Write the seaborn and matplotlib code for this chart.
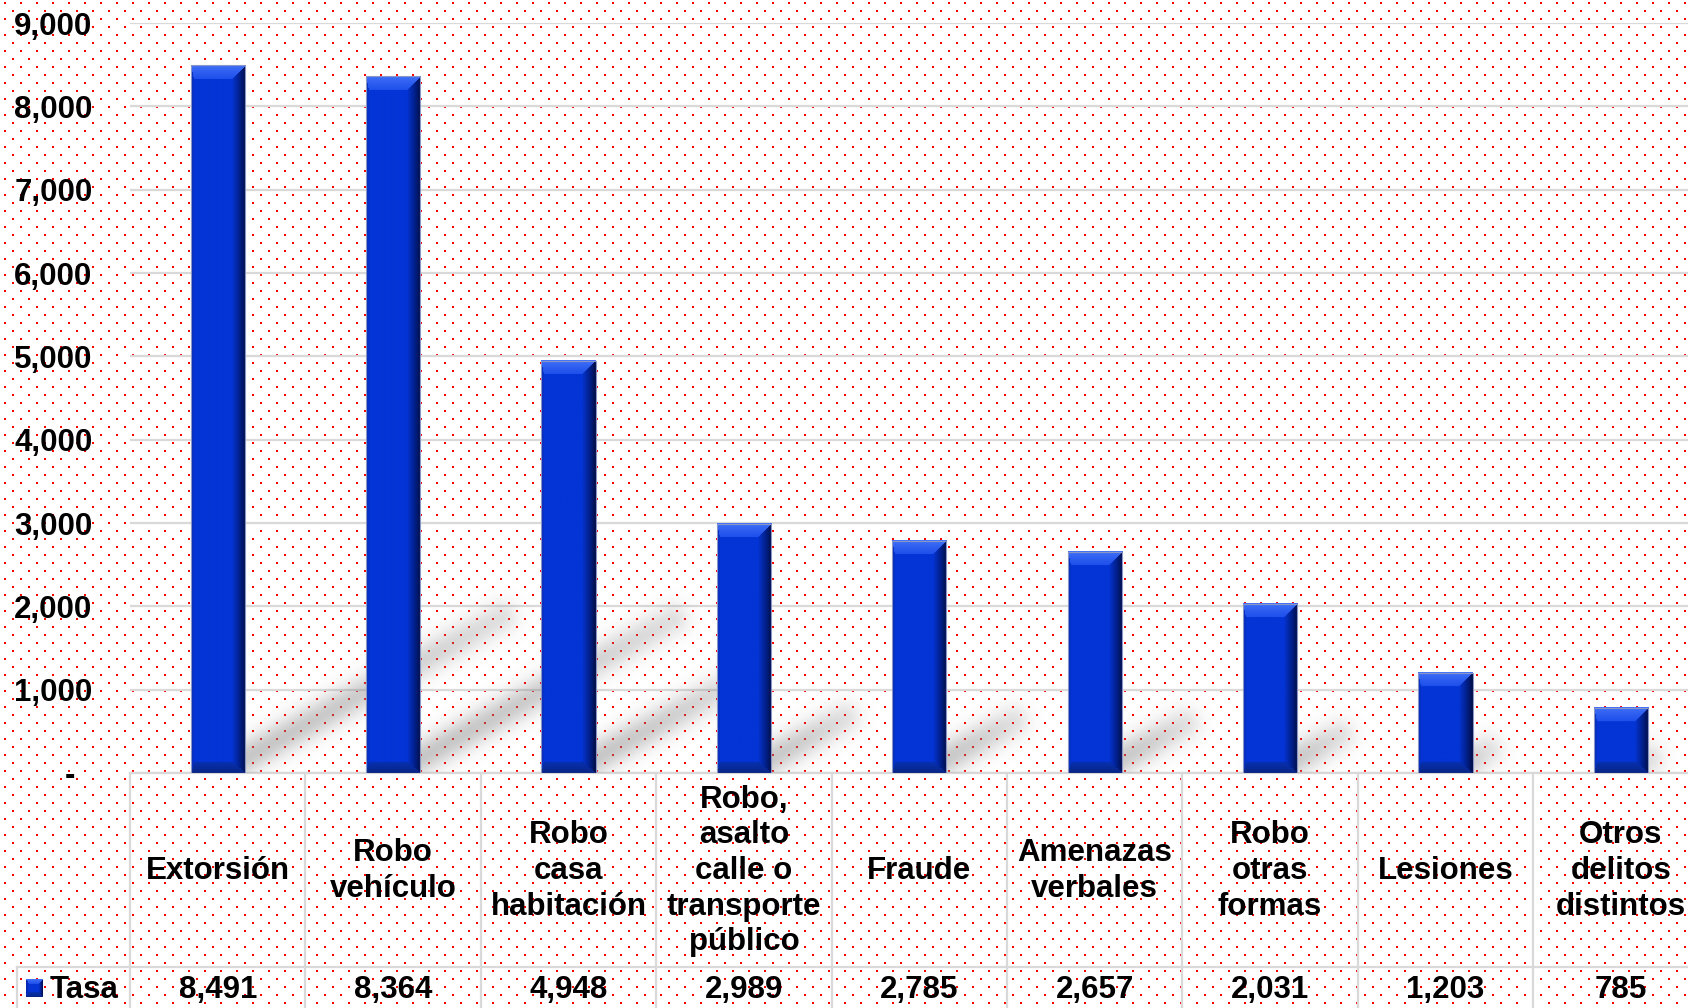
import numpy as np
import matplotlib
matplotlib.use('Agg')
import matplotlib.pyplot as plt
import seaborn as sns
import pandas as pd
from matplotlib.ticker import FuncFormatter
from matplotlib.transforms import blended_transform_factory
from matplotlib.patches import Rectangle
from matplotlib.lines import Line2D

# data
categories = ['Extorsión', 'Robo\nvehículo', 'Robo\ncasa\nhabitación',
              'Robo,\nasalto\ncalle o\ntransporte\npúblico', 'Fraude',
              'Amenazas\nverbales', 'Robo\notras\nformas', 'Lesiones',
              'Otros\ndelitos\ndistintos']
tasa = [8491, 8364, 4948, 2989, 2785, 2657, 2031, 1203, 785]
y_ticks = [0, 1000, 2000, 3000, 4000, 5000, 6000, 7000, 8000, 9000]
series_name = 'Tasa'

plt.rcParams['font.family'] = ['Liberation Sans', 'DejaVu Sans']
plt.rcParams['font.weight'] = 'bold'

W, H = 1688, 1008
blue = '#0434D5'
grid_color = '#D9D9D9'
fs = 22.5

fig = plt.figure(figsize=(W / 100, H / 100), dpi=100)
fig.patch.set_facecolor('white')


def fx(p):
    return p / W


def fy(p):
    return 1 - p / H


# red dotted background
bg = np.ones((H, W, 3))
for r in range(2, H - 1, 8):
    off = 4 + (8 if (r // 8) % 2 else 0)
    for c in range(off, W - 1, 16):
        bg[r:r + 2, c:c + 2] = (1, 0, 0)
fig.figimage(bg, xo=0, yo=0, origin='upper', zorder=-5)

col_w = 175.4
left, top, base = 130, 23, 773
ax = fig.add_axes([fx(left), fy(base), 9 * col_w / W, (base - top) / H])
ax.set_facecolor('none')
ax.set_zorder(2)

df = pd.DataFrame({'delito': categories, 'tasa': tasa})
sns.barplot(data=df, x='delito', y='tasa', color=blue, saturation=1,
            width=0.31, linewidth=0, ax=ax, zorder=3)
ax.set_xlim(-0.5, 8.5)
ax.set_ylim(0, 9000)
ax.set_yticks(y_ticks)
ax.yaxis.set_major_formatter(FuncFormatter(lambda v, p: '-  ' if v == 0 else f'{v:,.0f}'))
ax.grid(axis='y', color=grid_color, lw=1.6)
ax.grid(axis='x', visible=False)
ax.set_axisbelow(True)
ax.tick_params(axis='y', length=0, pad=27, labelsize=fs)
ax.tick_params(axis='x', length=0, labelbottom=False)
for s in ax.spines.values():
    s.set_visible(False)
ax.set_xlabel('')
ax.set_ylabel('')


def bevel_img(wpx, hpx, bl=3, br=13, bt=14, bb=11):
    w = max(int(round(wpx)), 4)
    h = max(int(round(hpx)), 4)
    jj, ii = np.meshgrid(np.arange(w) + 0.5, np.arange(h) + 0.5)
    d = np.stack([jj / bl, (w - jj) / br, ii / bt, (h - ii) / bb])
    face = d.argmin(0)
    m = np.clip(d.min(0), 0, 1)
    b = np.array(matplotlib.colors.to_rgb(blue))
    img = np.tile(b, (h, w, 1))
    cols = [(np.array(matplotlib.colors.to_rgb('#0628A8')), b * 0.97),
            (np.array(matplotlib.colors.to_rgb('#000A3A')), b * 0.95),
            (np.array(matplotlib.colors.to_rgb('#4474F8')), np.array(matplotlib.colors.to_rgb('#1E4FEA'))),
            (np.array(matplotlib.colors.to_rgb('#0A2480')), np.array(matplotlib.colors.to_rgb('#0630B0')))]
    for k, (c_edge, c_in) in enumerate(cols):
        sel = (face == k) & (d.min(0) < 1)
        t = m[sel][:, None] ** 0.8
        img[sel] = c_edge * (1 - t) + c_in * t
    return img


# soft diagonal shadows behind the bars
x0p, y0p, x1p, y1p = ax.bbox.extents
nw, nh = int(x1p - x0p), int(y1p - y0p)
XX, YY = np.meshgrid(x0p + np.arange(nw) + 0.5, y0p + np.arange(nh) + 0.5)
keep = np.ones_like(XX)
for p in ax.patches:
    v = p.get_height()
    cx = p.get_x() + p.get_width() / 2
    sx, sy = ax.transData.transform((cx, 0))
    ex, ey = ax.transData.transform((cx + 1.9e-4 * v, 0.22 * v))
    dx, dy = ex - sx, ey - sy
    t = np.clip(((XX - sx) * dx + (YY - sy) * dy) / (dx * dx + dy * dy), 0, 1)
    dist = np.hypot(XX - (sx + t * dx), YY - (sy + t * dy))
    a = 0.44 * np.exp(-(dist / 16.5) ** 2) * (1 - 0.45 * t ** 2)
    keep *= 1 - a
shadow = np.zeros((nh, nw, 4))
shadow[..., :3] = 0.5
shadow[..., 3] = 1 - keep
ax.imshow(shadow, extent=(-0.5, 8.5, 0, 9000), origin='lower', aspect='auto',
          zorder=2, interpolation='bilinear')

# bevelled look on every bar
for p in ax.patches:
    x, w, h = p.get_x(), p.get_width(), p.get_height()
    (ax_, ay_), (bx_, by_) = ax.transData.transform([(x, 0), (x + w, h)])
    ax.imshow(bevel_img(bx_ - ax_, by_ - ay_), extent=(x, x + w, 0, h),
              origin='upper', aspect='auto', zorder=4, interpolation='bilinear')
    ax.add_patch(Rectangle((x, 0), w, h, fill=False, ec='#8A96C6', lw=0.8, zorder=5))

ax.set_xlim(-0.5, 8.5)
ax.set_ylim(0, 9000)

# data table under the chart
trans = blended_transform_factory(ax.transData, fig.transFigure)
lkw = dict(color=grid_color, lw=1.6, zorder=1)
ax.add_artist(Line2D([-0.5, 8.5], [fy(773), fy(773)], transform=trans, clip_on=False, **lkw))
fig.add_artist(Line2D([fx(17), fx(W + 40)], [fy(967), fy(967)], **lkw))
fig.add_artist(Line2D([fx(17), fx(17)], [fy(967), fy(H + 5)], **lkw))
for k in range(10):
    ax.add_artist(Line2D([k - 0.5, k - 0.5], [fy(773), fy(H + 5)], transform=trans,
                         clip_on=False, **lkw))

for i, (cat, v) in enumerate(zip(categories, tasa)):
    ax.text(i, fy(871), cat, transform=trans, ha='center', va='center',
            fontsize=fs, linespacing=1.24, multialignment='center', clip_on=False)
    ax.text(i, fy(990), f'{v:,}', transform=trans, ha='center', va='center',
            fontsize=fs, clip_on=False)

key = fig.add_axes([fx(26), fy(997), 17 / W, 18 / H])
key.set_zorder(2)
key.imshow(bevel_img(17, 18, bl=3, br=4, bt=5, bb=5), aspect='auto', interpolation='bilinear')
key.set_axis_off()
fig.text(fx(50), fy(990), series_name, ha='left', va='center', fontsize=fs)

fig.savefig('out.png', dpi=100)
